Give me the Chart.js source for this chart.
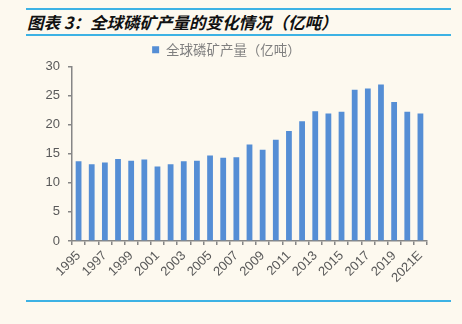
<!DOCTYPE html>
<html>
<head>
<meta charset="utf-8">
<script src="https://cdn.jsdelivr.net/npm/chart.js@4"></script>
<style>
body{margin:0;background:#fdf9ef;width:462px;height:324px;position:relative;overflow:hidden;}
.rule{position:absolute;left:26px;width:425px;height:2px;background:#3db2e4;}
#title{position:absolute;left:27px;top:11px;font:italic bold 16.5px "Noto Sans CJK SC",sans-serif;color:#111;white-space:nowrap;line-height:22px;}
#wrap{position:absolute;left:26px;top:33px;width:425px;height:267px;}
</style>
</head>
<body>
<div class="rule" style="top:8px"></div>
<div id="title">图表 3：全球磷矿产量的变化情况（亿吨）</div>
<div class="rule" style="top:34px"></div>
<div id="wrap"><canvas id="mycanvas"></canvas></div>
<div class="rule" style="top:300px"></div>
<script>
var years = ['1995','1996','1997','1998','1999','2000','2001','2002','2003','2004','2005','2006','2007','2008',
             '2009','2010','2011','2012','2013','2014','2015','2016','2017','2018','2019','2020','2021E'];
var output = [13.7,13.2,13.5,14.1,13.8,14.0,12.8,13.2,13.7,13.8,14.7,14.3,14.4,16.6,
              15.7,17.4,18.9,20.6,22.3,21.9,22.2,26.0,26.2,26.9,23.9,22.2,21.9];
var seriesName = '全球磷矿产量（亿吨）';
var yTicks = [0, 5, 10, 15, 20, 25, 30];

var axisGrey = '#868686';
var labelGrey = '#595959';

var ctx = document.getElementById('mycanvas');
var barGraph = new Chart(ctx, {
    type: 'bar',
    data: {
        labels: years,
        datasets: [{
            label: seriesName,
            data: output,
            backgroundColor: '#558ed5',
            borderWidth: 0,
            barPercentage: 0.44,
            categoryPercentage: 1
        }]
    },
    options: {
        responsive: true,
        maintainAspectRatio: false,
        animation: false,
        layout: { padding: { left: 0, right: 24, top: 0, bottom: 0 } },
        plugins: {
            tooltip: { enabled: false },
            legend: {
                position: 'top',
                labels: {
                    boxWidth: 7,
                    boxHeight: 7,
                    color: '#7f7f7f',
                    padding: 10,
                    font: { family: '"Noto Sans CJK SC", sans-serif', size: 13.5 }
                }
            }
        },
        scales: {
            x: {
                grid: { offset: true, drawOnChartArea: false, tickLength: 4, color: axisGrey, lineWidth: 1.5 },
                border: { color: axisGrey, width: 1.5 },
                ticks: {
                    autoSkip: false,
                    minRotation: 45,
                    maxRotation: 45,
                    padding: 3,
                    color: labelGrey,
                    font: { family: '"Liberation Sans", Arial, sans-serif', size: 13 },
                    callback: function(v, i) { return i % 2 === 0 ? years[i] : ''; }
                },
                afterFit: function(scale) { scale.height = 59; }
            },
            y: {
                min: 0,
                max: 30,
                afterBuildTicks: function(scale) { scale.ticks = yTicks.map(function(v){ return {value: v}; }); },
                grid: { drawOnChartArea: false, tickLength: 4, color: axisGrey, lineWidth: 1.5 },
                border: { color: axisGrey, width: 1.5 },
                ticks: {
                    padding: 8,
                    color: labelGrey,
                    font: { family: '"Liberation Sans", Arial, sans-serif', size: 13 }
                },
                afterFit: function(scale) { scale.width = 46; }
            }
        }
    }
});
</script>
</body>
</html>
